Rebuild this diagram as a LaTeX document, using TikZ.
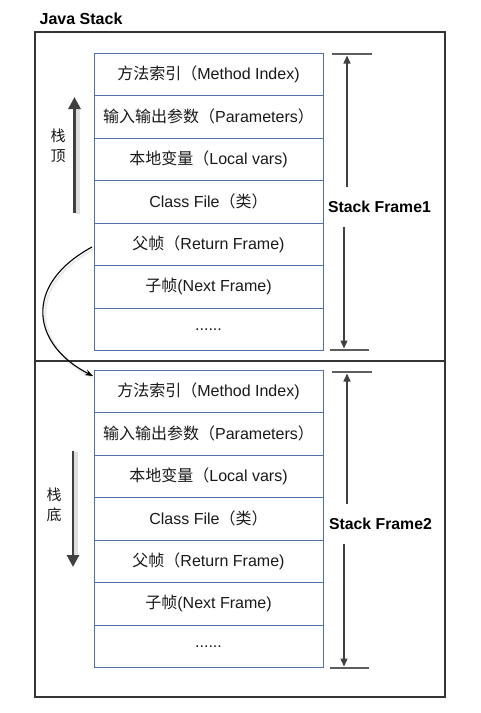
\documentclass[tikz,border=0pt]{standalone}
\usepackage{fontspec}
\setmainfont{Liberation Sans}
\newfontfamily\cjk{Noto Sans CJK SC}
\usetikzlibrary{arrows.meta,calc}
\newcommand\zh[1]{{\cjk #1}}
\definecolor{cellblue}{RGB}{79,112,168}
\definecolor{framegray}{RGB}{51,51,51}
\definecolor{arrowgray}{RGB}{64,64,64}
\definecolor{txt}{RGB}{25,25,25}
\begin{document}
\begin{tikzpicture}[x=1pt,y=-1pt,
  cell/.style={draw=cellblue,line width=0.9pt,minimum width=229pt,minimum height=42.5pt,
    inner sep=0pt,text=txt,font=\fontsize{16}{18}\selectfont},
  side/.style={font=\fontsize{15}{20}\selectfont\cjk,align=center,text=txt,inner sep=0pt},
  framelabel/.style={font=\fontsize{15.8}{18}\selectfont\bfseries,text=black,inner sep=0pt,minimum height=40pt},
  dimline/.style={draw=arrowgray,line width=1.4pt,-{Triangle[length=8pt,width=7pt]}},
  tick/.style={draw=arrowgray!85,line width=2pt},
  bigarrow/.style={draw=arrowgray,line width=2.8pt,-{Triangle[length=12pt,width=12pt]}},
  shadowline/.style={draw=gray,opacity=0.25,line width=4pt},
  outer/.style={draw=framegray,line width=2.2pt}]
\useasboundingbox (0,0) rectangle (481,713);

% title
\node[font=\fontsize{16}{18}\selectfont\bfseries,anchor=west,inner sep=0pt] (title) at (39.5,19) {Java Stack};

% outer frame and divider
\draw[outer] (35,32) rectangle (445,697);
\coordinate (divL) at (35,361);
\coordinate (divR) at (445,361);
\draw[outer] (divL) -- (divR);

% frame 1 cells
\node[cell] (a1) at (208.5,74.25) {\zh{方法索引（}Method Index)};
\node[cell] (a2) at (208.5,116.75) {\zh{输入输出参数（}Parameters\zh{）}};
\node[cell] (a3) at (208.5,159.25) {\zh{本地变量（}Local vars)};
\node[cell] (a4) at (208.5,201.75) {Class File\zh{（类）}};
\node[cell] (a5) at (208.5,244.25) {\zh{父帧（}Return Frame)};
\node[cell] (a6) at (208.5,286.75) {\zh{子帧}(Next Frame)};
\node[cell] (a7) at (208.5,329.25) {......};

% frame 2 cells
\node[cell] (b1) at (208.5,391.25) {\zh{方法索引（}Method Index)};
\node[cell] (b2) at (208.5,433.75) {\zh{输入输出参数（}Parameters\zh{）}};
\node[cell] (b3) at (208.5,476.25) {\zh{本地变量（}Local vars)};
\node[cell] (b4) at (208.5,518.75) {Class File\zh{（类）}};
\node[cell] (b5) at (208.5,561.25) {\zh{父帧（}Return Frame)};
\node[cell] (b6) at (208.5,603.75) {\zh{子帧}(Next Frame)};
\node[cell] (b7) at (208.5,646.25) {......};

% stack frame 1 dimension
\node[framelabel] (sf1) at (379.5,207) {Stack Frame1};
\coordinate (t1L) at (332,54); \coordinate (t1R) at (372,54);
\coordinate (t1) at (347,54);
\coordinate (u1L) at (330,350); \coordinate (u1R) at (369,350);
\coordinate (u1) at (344,350);
\draw[tick] (t1L) -- (t1R);
\draw[tick] (u1L) -- (u1R);
\draw[dimline] (sf1.north -| t1) -- ($(t1)+(0,1.5)$);
\draw[dimline] (sf1.south -| u1) -- ($(u1)+(0,-1.5)$);

% stack frame 2 dimension
\node[framelabel] (sf2) at (380.5,524) {Stack Frame2};
\coordinate (t2L) at (332,372); \coordinate (t2R) at (372,372);
\coordinate (t2) at (347,372);
\coordinate (u2L) at (330,668); \coordinate (u2R) at (369,668);
\coordinate (u2) at (344,668);
\draw[tick] (t2L) -- (t2R);
\draw[tick] (u2L) -- (u2R);
\draw[dimline] (sf2.north -| t2) -- ($(t2)+(0,1.5)$);
\draw[dimline] (sf2.south -| u2) -- ($(u2)+(0,-1.5)$);

% left arrows
\node[side] (top) at (58,146) {栈\\顶};
\coordinate (topS) at (74.5,213); \coordinate (topE) at (74.5,97);
\draw[shadowline] ($(topS)+(3,1)$) -- ($(topE)+(3,12)$);
\draw[bigarrow] (topS) -- (topE);

\node[side] (bot) at (54,505) {栈\\底};
\coordinate (botS) at (73,451); \coordinate (botE) at (73,567);
\draw[shadowline] ($(botS)+(3,1)$) -- ($(botE)+(3,-10)$);
\draw[bigarrow] (botS) -- (botE);

% curved link from return frame to next stack frame
\coordinate (cs) at (92,247);
\coordinate (ce) at (93,376);
\draw[shadowline,line width=2.5pt,opacity=0.15] ($(cs)+(2,2)$) .. controls (24,287) and (34,347) .. ($(ce)+(0,2)$);
\draw[black,line width=1.1pt,-{Stealth[length=8pt,width=6pt]}] (cs) .. controls (22,285) and (32,345) .. (ce);
\end{tikzpicture}
\end{document}
